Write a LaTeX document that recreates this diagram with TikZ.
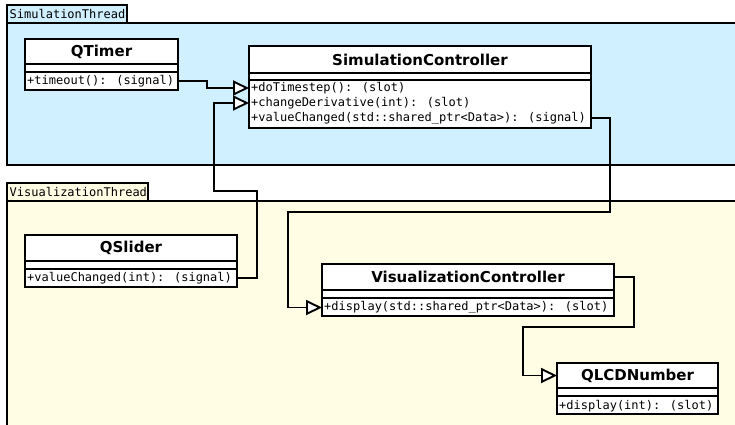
\documentclass[tikz,border=0pt]{standalone}
\usepackage{fontspec}
\setmainfont{DejaVu Sans}
\newfontfamily\umlmono{DejaVu Sans Mono}
\usetikzlibrary{arrows.meta}
\definecolor{simblue}{RGB}{208,240,255}
\definecolor{visyellow}{RGB}{255,253,228}
\tikzset{
  box/.style={draw, line width=1.9pt, fill=white, inner sep=0pt, outer sep=0pt, anchor=north west},
  classtitle/.style={box, font=\fontsize{15}{17}\selectfont\bfseries},
  member/.style={anchor=west, inner sep=0pt, font=\umlmono\fontsize{12}{14}\selectfont},
  tablabel/.style={anchor=west, inner sep=0pt, font=\umlmono\fontsize{12}{14}\selectfont},
  pkgtab/.style={draw, line width=1.9pt, inner sep=0pt, outer sep=0pt, anchor=north west},
  pkgbody/.style={draw, line width=1.9pt, inner sep=0pt, outer sep=0pt, anchor=north west},
  conn/.style={line width=1.9pt, -{Triangle[fill=white, length=16pt, width=15pt]}},
}
\begin{document}
\begin{tikzpicture}[x=1pt, y=-1pt]
\useasboundingbox (0,0) rectangle (735,424);
\begin{scope}
\clip (0,0) rectangle (735,424);

% packages (threads)
\node[pkgbody, fill=simblue, minimum width=740, minimum height=142] (simpkg) at (7,23) {};
\node[pkgtab, fill=simblue, minimum width=120, minimum height=18] (simtab) at (7,5) {};
\node[tablabel] (simtabtxt) at (9.5,14) {SimulationThread};

\node[pkgbody, fill=visyellow, minimum width=740, minimum height=240] (vispkg) at (7,201) {};
\node[pkgtab, fill=visyellow, minimum width=141, minimum height=18] (vistab) at (7,183) {};
\node[tablabel] (vistabtxt) at (9.5,192) {VisualizationThread};

% QTimer
\node[classtitle, minimum width=153, minimum height=25] (qt) at (25,39) {QTimer};
\node[box, minimum width=153, minimum height=8] (qt-a) at (25,64) {};
\node[box, minimum width=153, minimum height=18] (qt-m) at (25,72) {};
\node[member] (qt-r1) at (27,81) {+timeout(): (signal)};

% SimulationController
\node[classtitle, minimum width=342, minimum height=27] (sc) at (249,46) {SimulationController};
\node[box, minimum width=342, minimum height=7] (sc-a) at (249,73) {};
\node[box, minimum width=342, minimum height=48] (sc-m) at (249,80) {};
\node[member] (sc-r1) at (251,88) {+doTimestep(): (slot)};
\node[member] (sc-r2) at (251,103) {+changeDerivative(int): (slot)};
\node[member] (sc-r3) at (251,118) {+valueChanged(std::shared\_ptr<Data>): (signal)};

% QSlider
\node[classtitle, minimum width=212, minimum height=26] (qs) at (25,235) {QSlider};
\node[box, minimum width=212, minimum height=8] (qs-a) at (25,261) {};
\node[box, minimum width=212, minimum height=18] (qs-m) at (25,269) {};
\node[member] (qs-r1) at (27,278) {+valueChanged(int): (signal)};

% VisualizationController
\node[classtitle, minimum width=292, minimum height=26] (vc) at (322,264) {VisualizationController};
\node[box, minimum width=292, minimum height=8] (vc-a) at (322,290) {};
\node[box, minimum width=292, minimum height=18] (vc-m) at (322,298) {};
\node[member] (vc-r1) at (324,307.5) {+display(std::shared\_ptr<Data>): (slot)};

% QLCDNumber
\node[classtitle, minimum width=161, minimum height=25] (lcd) at (557,363) {QLCDNumber};
\node[box, minimum width=161, minimum height=8] (lcd-a) at (557,388) {};
\node[box, minimum width=161, minimum height=18] (lcd-m) at (557,396) {};
\node[member] (lcd-r1) at (559,406) {+display(int): (slot)};

% signal/slot connections
\draw[conn] (qt-r1 -| qt-m.east) -- ++(29,0) |- (sc-r1 -| sc-m.west);
\draw[conn] (qs-r1 -| qs-m.east) -- ++(20,0) -- ++(0,-87) -- ++(-43,0) |- (sc-r2 -| sc-m.west);
\draw[conn] (sc-r3 -| sc-m.east) -- ++(19,0) -- ++(0,94) -- ++(-322,0) |- (vc-r1 -| vc-m.west);
\draw[conn] (vc.east) -- ++(20,0) -- ++(0,50) -- ++(-111,0) |- (lcd.west);
\end{scope}
\end{tikzpicture}
\end{document}
